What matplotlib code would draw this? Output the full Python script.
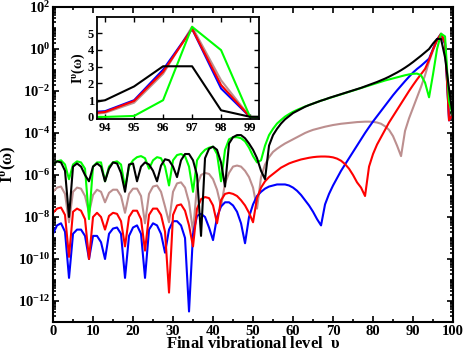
import numpy as np
import matplotlib
matplotlib.use('Agg')
import matplotlib.pyplot as plt
from matplotlib.ticker import FixedLocator, FuncFormatter, MultipleLocator


# Final vibrational levels 0..100
levels = list(range(0, 101))

# log10 of I^v(omega)
log_black = [
    -5.5, -5.35, -5.4, -5.8, -8.0, -5.6, -5.45, -5.6, -6.0, -6.3,
    -5.6, -5.45, -5.6, -6.3, -5.7, -5.4, -5.45, -5.9, -6.8, -5.5,
    -5.45, -6.3, -5.6, -5.4, -5.5, -5.8, -6.3, -5.55, -5.25, -5.3,
    -5.6, -6.1, -5.3, -5.0, -5.0, -5.3, -6.0, -8.9, -5.2, -4.75,
    -4.65, -4.8, -5.4, -6.55, -4.5, -4.2, -4.1, -4.1, -4.25, -4.5,
    -4.8, -5.2, -5.8, -6.2, -4.6, -4.1, -3.8, -3.55, -3.35, -3.2,
    -3.05, -2.95, -2.85, -2.75, -2.67, -2.6, -2.53, -2.46, -2.4, -2.33,
    -2.27, -2.21, -2.15, -2.09, -2.03, -1.97, -1.91, -1.85, -1.78, -1.71,
    -1.64, -1.57, -1.49, -1.41, -1.32, -1.22, -1.12, -1.01, -0.89, -0.76,
    -0.62, -0.47, -0.32, -0.16, 0.0, 0.26, 0.48, 0.48, -0.4, -1.9,
    -3.3,
]
log_green = [
    -5.5, -5.35, -5.3, -5.5, -6.2, -5.5, -5.35, -5.4, -5.7, -8.1,
    -5.6, -5.4, -5.4, -6.3, -5.6, -5.4, -5.35, -5.5, -6.6, -5.6,
    -5.3, -5.15, -5.1, -5.2, -5.7, -5.3, -5.15, -5.2, -5.6, -6.5,
    -5.3, -5.05, -5.0, -5.1, -5.6, -6.8, -5.3, -5.0, -4.8, -4.7,
    -4.65, -5.0, -6.3, -4.8, -4.3, -4.2, -4.2, -4.25, -4.4, -4.7,
    -5.1, -5.4, -5.3, -4.6, -4.1, -3.8, -3.55, -3.38, -3.22, -3.1,
    -2.99, -2.9, -2.82, -2.74, -2.67, -2.6, -2.53, -2.46, -2.4, -2.34,
    -2.28, -2.22, -2.16, -2.1, -2.04, -1.98, -1.92, -1.86, -1.8, -1.74,
    -1.68, -1.62, -1.56, -1.5, -1.45, -1.4, -1.35, -1.3, -1.25, -1.21,
    -1.18, -1.17, -1.25, -1.6, -2.3, -1.2, 0.0, 0.73, 0.6, -2.5,
    -3.2,
]
log_brown = [
    -6.8, -6.6, -6.55, -6.9, -8.25, -6.8, -6.6, -6.65, -7.0, -7.8,
    -6.95, -6.7, -6.8, -7.3, -6.85, -6.7, -6.7, -7.0, -7.8, -6.9,
    -6.65, -6.65, -7.0, -8.3, -6.9, -6.55, -6.5, -6.8, -7.5, -8.25,
    -6.8, -6.4, -6.35, -6.6, -7.3, -8.7, -6.5, -6.0, -5.9, -5.95,
    -6.2, -6.7, -7.5, -6.4, -5.9, -5.6, -5.55, -5.6, -5.8, -6.1,
    -6.6, -7.6, -6.1, -5.5, -5.15, -4.9, -4.75, -4.62, -4.5, -4.4,
    -4.3, -4.2, -4.1, -4.0, -3.92, -3.85, -3.8, -3.75, -3.7, -3.66,
    -3.62, -3.59, -3.56, -3.54, -3.52, -3.5, -3.48, -3.47, -3.46, -3.46,
    -3.47, -3.5, -3.56, -3.68, -3.85, -4.15, -4.6, -5.1, -3.9, -3.3,
    -2.8, -2.3, -1.8, -1.25, -0.6, -0.07, 0.41, 0.73, 0.34, -3.3,
    -3.0,
]
log_red = [
    -7.8, -7.6, -7.55, -7.9, -9.9, -7.75, -7.6, -7.7, -8.1, -10.0,
    -8.0, -7.8, -8.0, -8.6, -7.95, -7.8, -7.85, -8.2, -9.4, -8.0,
    -7.7, -7.7, -8.1, -9.6, -7.9, -7.6, -7.6, -7.9, -8.7, -11.6,
    -7.9, -7.45, -7.4, -7.7, -8.4, -9.4, -7.6, -7.15, -7.05, -7.1,
    -7.45, -8.3, -7.2, -6.9, -6.85, -6.9, -7.0, -7.2, -7.45, -7.8,
    -8.25, -7.1, -6.6, -6.3, -6.1, -5.95, -5.8, -5.65, -5.55, -5.45,
    -5.38, -5.32, -5.26, -5.22, -5.18, -5.15, -5.13, -5.12, -5.12, -5.13,
    -5.16, -5.22, -5.32, -5.48, -5.7, -6.0, -6.35, -6.6, -7.0, -5.6,
    -5.0, -4.55, -4.2, -3.85, -3.5, -3.2, -2.9, -2.6, -2.3, -2.0,
    -1.72, -1.45, -1.2, -0.95, -0.52, -0.02, 0.43, 0.72, 0.28, -3.4,
    -3.1,
]
log_blue = [
    -8.8, -8.4, -8.3, -8.7, -10.9, -8.8, -8.6, -8.6, -8.9, -10.0,
    -8.9, -8.9, -9.2, -10.0, -8.8, -8.55, -8.5, -8.8, -10.9, -8.9,
    -8.5, -8.4, -8.8, -10.9, -8.6, -8.3, -8.4, -8.8, -9.7, -8.6,
    -8.2, -8.2, -8.4, -9.0, -12.5, -8.8, -7.95, -7.85, -8.0, -8.5,
    -9.1, -8.0, -7.5, -7.3, -7.3, -7.45, -7.75, -8.3, -9.25, -8.0,
    -7.4, -7.0, -6.8, -6.65, -6.55, -6.5, -6.45, -6.45, -6.45, -6.5,
    -6.6, -6.75, -6.95, -7.2, -7.45, -7.75, -8.1, -8.4, -7.4, -6.9,
    -6.5, -6.15, -5.8, -5.5, -5.2, -4.9, -4.6, -4.3, -4.0, -3.72,
    -3.45, -3.2, -2.95, -2.7, -2.45, -2.2, -1.97, -1.75, -1.53, -1.32,
    -1.12, -0.95, -0.8, -0.63, -0.46, 0.0, 0.45, 0.72, 0.23, -3.4,
    -3.1,
]

series_names = ['brown', 'blue', 'red', 'green', 'black']
series_colors = ['#bc8f8f', '#0000ff', '#ff0000', '#00ff00', '#000000']
series_logs = [log_brown, log_blue, log_red, log_green, log_black]

inset_ticks = [94, 95, 96, 97, 98, 99]

SERIF = 'Liberation Serif'


def setup_fonts():
    """Times-like bold text everywhere."""
    plt.rcParams['font.family'] = [SERIF, 'DejaVu Serif']
    plt.rcParams['font.weight'] = 'bold'
    plt.rcParams['axes.labelweight'] = 'bold'
    plt.rcParams['mathtext.fontset'] = 'custom'
    plt.rcParams['mathtext.rm'] = SERIF + ':bold'
    plt.rcParams['mathtext.it'] = SERIF + ':bold'
    plt.rcParams['mathtext.bf'] = SERIF + ':bold'


def log_label(val, pos):
    exp = int(round(np.log10(val)))
    if exp % 2:
        return ''
    return r'$\mathrm{10^{%d}}$' % exp


def style_ticks(ax, size, width):
    ax.tick_params(which='both', direction='in', top=True, right=True,
                   width=width, labelsize=size, pad=2)
    ax.tick_params(which='major', length=4.5)
    ax.tick_params(which='minor', length=2.5)
    for sp in ax.spines.values():
        sp.set_linewidth(width + 0.3)


def draw_main(fig):
    ax = fig.add_axes([0.1145, 0.0904, 0.864, 0.8898])
    x = np.array(levels)
    for name, col, lg in zip(series_names, series_colors, series_logs):
        ax.plot(x, 10.0 ** np.array(lg), color=col, lw=1.5, label=name)

    ax.set_yscale('log')
    ax.set_xlim(0, 100)
    ax.set_ylim(1e-13, 1e2)
    ax.xaxis.set_major_locator(MultipleLocator(10))
    ax.xaxis.set_minor_locator(MultipleLocator(5))
    ax.yaxis.set_major_locator(FixedLocator([10.0 ** e for e in range(-12, 3, 2)]))
    minor = [k * 10.0 ** e for e in range(-13, 2) for k in range(2, 10)]
    minor += [10.0 ** e for e in range(-13, 2, 2)]
    ax.yaxis.set_minor_locator(FixedLocator(minor))
    ax.yaxis.set_major_formatter(FuncFormatter(log_label))
    ax.yaxis.set_minor_formatter(FuncFormatter(lambda v, p: ''))
    style_ticks(ax, 10.5, 1.2)

    ax.set_xlabel(r'Final vibrational level  $\mathrm{\upsilon}$',
                  fontsize=12, fontweight='bold', labelpad=-1)
    ax.set_ylabel(r'$\mathrm{I^{\upsilon}(\omega)}$', fontsize=12, labelpad=0)
    return ax


def draw_inset(fig):
    ax = fig.add_axes([0.2095, 0.6638, 0.35, 0.288])
    x = np.array(levels)
    for col, lg in zip(series_colors, series_logs):
        ax.plot(x, 10.0 ** np.array(lg), color=col, lw=1.5)

    ax.set_xlim(93.72, 99.31)
    ax.set_ylim(-0.12, 5.95)
    ax.xaxis.set_major_locator(FixedLocator(inset_ticks))
    ax.yaxis.set_major_locator(MultipleLocator(1))
    style_ticks(ax, 9, 1.0)
    ax.tick_params(which='major', length=3.5, pad=2)
    ax.set_ylabel(r'$\mathrm{I^{\upsilon}(\omega)}$', fontsize=10, labelpad=1)
    return ax


def main():
    setup_fonts()
    fig = plt.figure(figsize=(4.63, 3.54), dpi=100)
    draw_main(fig)
    draw_inset(fig)
    fig.savefig('out.png', dpi=100)


if __name__ == '__main__':
    main()
